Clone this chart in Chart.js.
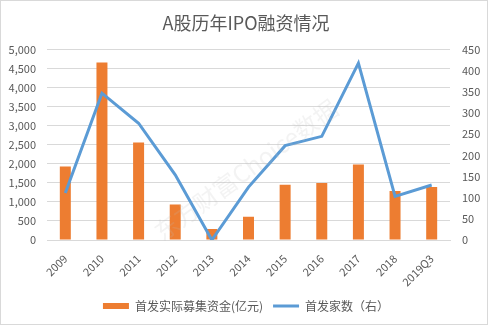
<!DOCTYPE html>
<html>
<head>
<meta charset="utf-8">
<script src="https://cdn.jsdelivr.net/npm/chart.js@4/dist/chart.umd.min.js"></script>
<style>
  html, body { margin: 0; padding: 0; background: #fff; }
  #wrap { width: 488px; height: 325px; position: relative; }
</style>
</head>
<body>
<div id="wrap"><canvas id="c"></canvas></div>
<script>
// Years shown along the bottom axis
const years = ['2009', '2010', '2011', '2012', '2013', '2014', '2015', '2016', '2017', '2018', '2019Q3'];
// IPO funds actually raised (100 million yuan), left axis
const fundsRaised = [1930, 4660, 2560, 930, 290, 610, 1450, 1500, 1980, 1290, 1395];
// Number of IPO companies, right axis
const ipoCount = [111, 347, 276, 154, 0, 125, 223, 245, 418, 103, 130];

const FONT = '"Noto Sans CJK SC", "Noto Sans", sans-serif';
const TXT = '#595959';

const frame = {
  id: 'frame',
  afterDraw(chart) {
    const ctx = chart.ctx;
    ctx.save();
    // faint watermark across the plot
    ctx.translate(246, 170);
    ctx.rotate(-36 * Math.PI / 180);
    ctx.font = '24px ' + FONT;
    ctx.fillStyle = 'rgba(190,190,190,0.18)';
    ctx.textAlign = 'center';
    ctx.textBaseline = 'middle';
    ctx.fillText('东方财富Choice数据', 0, 0);
    ctx.restore();
    ctx.save();
    ctx.strokeStyle = '#d9d9d9';
    ctx.lineWidth = 1;
    ctx.strokeRect(0.5, 0.5, chart.width - 1, chart.height - 1);
    ctx.restore();
  }
};

new Chart(document.getElementById('c'), {
  data: {
    labels: years,
    datasets: [
      {
        type: 'line',
        label: '首发家数（右）',
        data: ipoCount,
        yAxisID: 'y2',
        borderColor: '#5B9BD5',
        backgroundColor: '#5B9BD5',
        borderWidth: 3,
        pointRadius: 0,
        tension: 0,
        order: 0
      },
      {
        type: 'bar',
        label: '首发实际募集资金(亿元)',
        data: fundsRaised,
        yAxisID: 'y',
        backgroundColor: '#ED7D31',
        barPercentage: 1,
        categoryPercentage: 0.3,
        order: 1
      }
    ]
  },
  options: {
    responsive: true,
    maintainAspectRatio: false,
    animation: false,
    layout: { padding: { left: 4, right: 0, top: 4, bottom: 3 } },
    plugins: {
      title: {
        display: true,
        text: 'A股历年IPO融资情况',
        color: TXT,
        font: { family: FONT, size: 18, weight: 'normal' },
        padding: { top: 8, bottom: 16 }
      },
      legend: {
        position: 'bottom',
        reverse: true,
        labels: {
          color: TXT,
          font: { family: FONT, size: 12 },
          usePointStyle: true,
          pointStyleWidth: 26,
          boxHeight: 6,
          padding: 10,
          generateLabels(chart) {
            return chart.data.datasets.map((ds, i) => ({
              text: ds.label,
              fillStyle: ds.type === 'bar' ? ds.backgroundColor : ds.borderColor,
              strokeStyle: ds.type === 'bar' ? ds.backgroundColor : ds.borderColor,
              lineWidth: ds.type === 'bar' ? 0 : 3,
              pointStyle: ds.type === 'bar' ? 'rect' : 'line',
              fontColor: TXT,
              datasetIndex: i,
              hidden: false
            }));
          }
        }
      },
      tooltip: { enabled: false }
    },
    scales: {
      x: {
        grid: { display: false },
        border: { color: '#d9d9d9' },
        afterFit(scale) { scale.height = 50; },
        ticks: {
          color: TXT,
          font: { family: FONT, size: 11 },
          minRotation: 45,
          maxRotation: 45,
          padding: 4
        }
      },
      y: {
        position: 'left',
        min: 0,
        max: 5000,
        grid: { color: '#d9d9d9', drawTicks: false },
        border: { display: false },
        afterFit(scale) { scale.width = 43; },
        ticks: {
          stepSize: 500,
          color: TXT,
          font: { family: FONT, size: 11 },
          padding: 11,
          callback: v => v.toLocaleString('en-US')
        }
      },
      y2: {
        position: 'right',
        min: 0,
        max: 450,
        grid: { display: false, drawTicks: false },
        border: { display: false },
        afterFit(scale) { scale.width = 38; },
        ticks: {
          stepSize: 50,
          color: TXT,
          font: { family: FONT, size: 11 },
          padding: 12
        }
      }
    }
  },
  plugins: [frame]
});
</script>
</body>
</html>
